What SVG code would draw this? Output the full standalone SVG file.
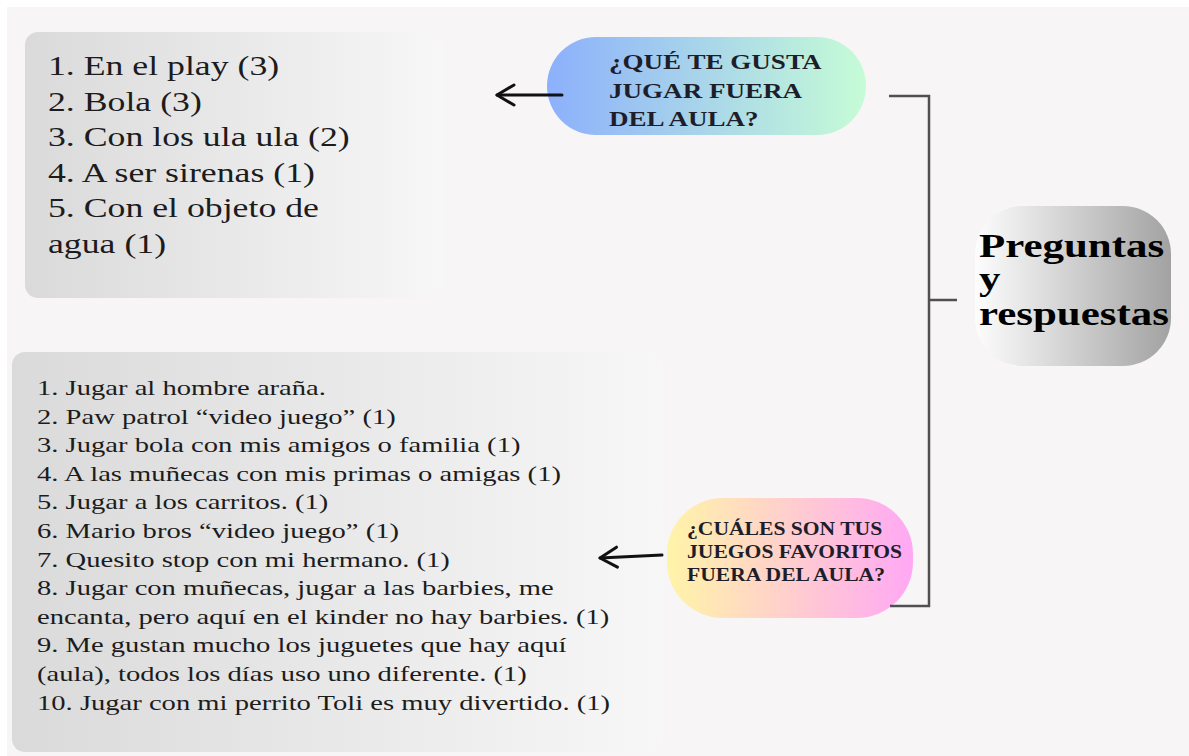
<svg xmlns="http://www.w3.org/2000/svg" width="1189" height="756" viewBox="0 0 1189 756">
  <style>
    .list { font-family: "Liberation Serif", "Times New Roman", serif; fill: #1c1c1c; }
    .q { font-family: "Liberation Serif", "Times New Roman", serif; font-weight: bold; fill: #1e1e2a; }
    .title { font-family: "Liberation Serif", "Times New Roman", serif; font-weight: bold; fill: #000; }
    .conn { fill: none; stroke: #505050; stroke-width: 2.5; }
    .arrow { fill: none; stroke: #111; stroke-width: 3; stroke-linecap: round; }
  </style>
  <defs>
    <linearGradient id="gBox" x1="0" y1="0" x2="1" y2="0">
      <stop offset="0" stop-color="#dadada"/>
      <stop offset="1" stop-color="#f8f7f8"/>
    </linearGradient>
    <linearGradient id="gBlue" x1="0" y1="0" x2="1" y2="0">
      <stop offset="0" stop-color="#8cb0fc"/>
      <stop offset="1" stop-color="#c6fcd6"/>
    </linearGradient>
    <linearGradient id="gPink" x1="0" y1="0" x2="1" y2="0">
      <stop offset="0" stop-color="#fff4a8"/>
      <stop offset="1" stop-color="#ffa8f4"/>
    </linearGradient>
    <linearGradient id="gGrey" x1="0" y1="0" x2="1" y2="0">
      <stop offset="0" stop-color="#fdfdfd"/>
      <stop offset="1" stop-color="#a2a2a2"/>
    </linearGradient>
    <marker id="head" markerUnits="userSpaceOnUse" markerWidth="22" markerHeight="24" viewBox="0 0 22 24" refX="19" refY="12" orient="auto">
      <path d="M2,2 L19,12 L2,22" fill="none" stroke="#111" stroke-width="3" stroke-linecap="round" stroke-linejoin="round"/>
    </marker>
  </defs>

  <rect x="0" y="0" width="1189" height="756" fill="#ffffff"/>
  <rect x="7" y="7" width="1182" height="749" fill="#f7f5f6"/>

  <g id="answers-outside">
    <rect x="25" y="32" width="418" height="266" rx="13" fill="url(#gBox)"/>
    <text class="list" font-size="27.5" transform="translate(48,0) scale(1.3,1)">
      <tspan x="0" y="75">1. En el play (3)</tspan>
      <tspan x="0" y="110.6">2. Bola (3)</tspan>
      <tspan x="0" y="146.2">3. Con los ula ula (2)</tspan>
      <tspan x="0" y="181.8">4. A ser sirenas (1)</tspan>
      <tspan x="0" y="217.4">5. Con el objeto de</tspan>
      <tspan x="0" y="253">agua (1)</tspan>
    </text>
  </g>

  <g id="answers-favorites">
    <rect x="12" y="352" width="651" height="400" rx="13" fill="url(#gBox)"/>
    <text class="list" font-size="22" transform="translate(37,0) scale(1.3,1)">
      <tspan x="0" y="395">1. Jugar al hombre araña.</tspan>
      <tspan x="0" y="423.6">2. Paw patrol “video juego” (1)</tspan>
      <tspan x="0" y="452.2">3. Jugar bola con mis amigos o familia (1)</tspan>
      <tspan x="0" y="480.8">4. A las muñecas con mis primas o amigas (1)</tspan>
      <tspan x="0" y="509.4">5. Jugar a los carritos. (1)</tspan>
      <tspan x="0" y="538">6. Mario bros “video juego” (1)</tspan>
      <tspan x="0" y="566.6">7. Quesito stop con mi hermano. (1)</tspan>
      <tspan x="0" y="595.2">8. Jugar con muñecas, jugar a las barbies, me</tspan>
      <tspan x="0" y="623.8">encanta, pero aquí en el kinder no hay barbies. (1)</tspan>
      <tspan x="0" y="652.4">9. Me gustan mucho los juguetes que hay aquí</tspan>
      <tspan x="0" y="681">(aula), todos los días uso uno diferente. (1)</tspan>
      <tspan x="0" y="709.6">10. Jugar con mi perrito Toli es muy divertido. (1)</tspan>
    </text>
  </g>

  <g id="question-outside">
    <rect x="547" y="37" width="319" height="98" rx="49" fill="url(#gBlue)"/>
    <text class="q" font-size="20.5" transform="translate(609,0) scale(1.32,1)">
      <tspan x="0" y="69">¿QUÉ TE GUSTA</tspan>
      <tspan x="0" y="98">JUGAR FUERA</tspan>
      <tspan x="0" y="126.5">DEL AULA?</tspan>
    </text>
  </g>

  <g id="question-favorites">
    <rect x="667" y="498" width="246" height="120" rx="56" fill="url(#gPink)"/>
    <text class="q" font-size="18" transform="translate(687,0) scale(1.2,1)">
      <tspan x="0" y="535">¿CUÁLES SON TUS</tspan>
      <tspan x="0" y="558">JUEGOS FAVORITOS</tspan>
      <tspan x="0" y="581">FUERA DEL AULA?</tspan>
    </text>
  </g>

  <g id="central">
    <rect x="975" y="206" width="196" height="160" rx="48" fill="url(#gGrey)"/>
    <text class="title" font-size="33" transform="translate(979,0) scale(1.3,1)">
      <tspan x="0" y="257">Preguntas</tspan>
      <tspan x="0" y="290">y</tspan>
      <tspan x="0" y="325">respuestas</tspan>
    </text>
  </g>

  <g id="connectors">
    <path class="conn" d="M889,96 H929 V606 H890"/>
    <path class="conn" d="M929,300 H957"/>
    <path class="arrow" d="M562,95 L497,95" marker-end="url(#head)"/>
    <path class="arrow" d="M662,555 L600,558" marker-end="url(#head)"/>
  </g>
</svg>
